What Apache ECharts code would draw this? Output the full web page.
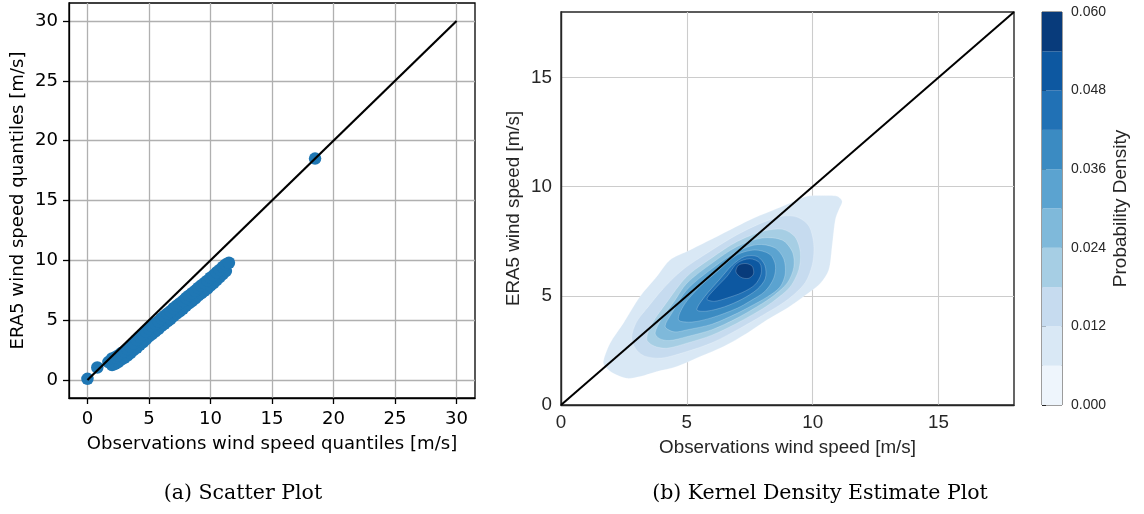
<!DOCTYPE html>
<html>
<head>
<meta charset="utf-8">
<script src="https://cdn.jsdelivr.net/npm/echarts@6/dist/echarts.min.js"></script>
<style>
  html, body { margin: 0; padding: 0; background: #ffffff; }
  #chart { width: 1144px; height: 514px; }
</style>
</head>
<body>
<div id="chart"></div>
<script>
// ---- (a) Q-Q scatter: observed vs ERA5 wind speed quantiles [m/s] ----
const obsQuantiles = [
  0.0, 0.8, 1.7,
  2.0, 2.25, 2.5, 2.75, 3.0, 3.25, 3.5, 3.75, 4.0, 4.25, 4.5, 4.75, 5.0, 5.25, 5.5, 5.75,
  6.0, 6.25, 6.5, 6.75, 7.0, 7.25, 7.5, 7.75, 8.0, 8.25, 8.5, 8.75, 9.0, 9.25, 9.5, 9.75,
  10.0, 10.25, 10.5, 10.75, 11.0, 11.25,
  2.0, 2.25, 2.5, 2.75, 3.0, 3.25, 3.5, 3.75, 4.0, 4.25, 4.5, 4.75, 5.0, 5.25, 5.5, 5.75,
  6.0, 6.25, 6.5, 6.75, 7.0, 7.25, 7.5, 7.75, 8.0, 8.25, 8.5, 8.75, 9.0, 9.25, 9.5, 9.75,
  10.0, 10.25, 10.5, 10.75, 11.0, 11.25,
  11.5, 18.5
];
const era5Quantiles = [
  0.1, 1.05, 1.5,
  1.25, 1.35, 1.5, 1.7, 1.85, 2.05, 2.25, 2.5, 2.7, 2.95, 3.15, 3.4, 3.65, 3.85, 4.05, 4.25,
  4.5, 4.7, 4.9, 5.1, 5.35, 5.55, 5.75, 5.95, 6.2, 6.4, 6.6, 6.8, 7.05, 7.25, 7.45, 7.65,
  7.9, 8.1, 8.35, 8.6, 8.85, 9.1,
  1.8, 1.9, 2.05, 2.25, 2.4, 2.6, 2.8, 3.05, 3.35, 3.6, 3.8, 4.05, 4.3, 4.5, 4.7, 4.9,
  5.15, 5.35, 5.55, 5.75, 6.0, 6.2, 6.4, 6.6, 6.85, 7.05, 7.25, 7.45, 7.7, 7.9, 8.1, 8.3,
  8.55, 8.75, 9.0, 9.2, 9.45, 9.65,
  9.8, 18.5
];
const scatterTicks = [0, 5, 10, 15, 20, 25, 30];
const qqIdentity = [[0, 0], [30, 30]];

// ---- (b) KDE: filled density contours, one closed outline per level ----
const kdeLevel1 = [[1.68,1.99],[1.95,2.83],[2.48,3.75],[3.14,4.97],[3.81,5.89],[4.34,6.65],[5.0,7.03],[5.8,7.49],[6.73,8.03],[7.52,8.49],[8.32,8.87],[9.11,9.25],[9.78,9.56],[10.44,9.59],[10.97,9.56],[11.17,9.33],[11.04,8.94],[10.9,8.49],[10.77,7.26],[10.64,6.19],[10.31,5.58],[9.64,4.97],[8.98,4.43],[8.19,3.9],[7.39,3.29],[6.46,2.68],[5.53,2.22],[4.6,1.76],[3.81,1.53],[3.14,1.3],[2.61,1.22],[2.08,1.45],[1.75,1.76]];
const kdeLevel2 = [[2.81,3.1],[3.0,3.8],[3.5,4.55],[4.0,5.25],[4.5,5.85],[5.0,6.34],[6.0,7.1],[7.0,7.8],[8.0,8.35],[8.8,8.65],[9.4,8.6],[9.85,8.2],[10.04,7.4],[10.0,6.5],[9.7,5.6],[9.0,4.82],[8.0,4.1],[7.0,3.44],[6.0,2.85],[5.0,2.45],[4.0,2.15],[3.3,2.25],[2.95,2.6]];
const kdeLevel3 = [[3.41,3.0],[3.6,3.7],[4.2,4.7],[5.0,5.89],[6.0,6.75],[7.0,7.49],[8.0,7.95],[8.8,8.05],[9.3,7.7],[9.51,7.0],[9.45,6.2],[9.1,5.4],[8.5,4.8],[8.0,4.4],[7.0,3.75],[6.0,3.2],[5.0,2.83],[4.2,2.6],[3.7,2.7]];
const kdeLevel4 = [[3.74,3.3],[4.0,3.95],[4.5,4.75],[5.0,5.58],[6.0,6.5],[7.0,7.26],[8.0,7.65],[8.8,7.55],[9.2,7.0],[9.25,6.3],[9.0,5.6],[8.5,5.05],[8.0,4.65],[7.0,3.98],[6.0,3.45],[5.0,3.13],[4.3,2.95],[3.9,3.05]];
const kdeLevel5 = [[4.14,3.59],[4.4,4.2],[5.0,5.28],[6.0,6.25],[7.0,7.03],[7.8,7.35],[8.5,7.2],[8.85,6.7],[8.91,6.0],[8.7,5.4],[8.2,4.95],[7.5,4.5],[7.0,4.2],[6.0,3.7],[5.0,3.44],[4.5,3.35]];
const kdeLevel6 = [[4.67,3.9],[4.9,4.6],[5.5,5.4],[6.2,6.1],[7.0,6.88],[7.7,7.1],[8.3,6.9],[8.52,6.4],[8.45,5.8],[8.1,5.2],[7.5,4.75],[7.0,4.43],[6.0,4.0],[5.2,3.8]];
const kdeLevel7 = [[5.4,4.36],[5.7,4.95],[6.3,5.75],[6.8,6.4],[7.3,6.8],[7.8,6.8],[8.1,6.4],[8.12,5.8],[7.8,5.3],[7.2,4.85],[6.5,4.5],[5.8,4.3]];
const kdeLevel8 = [[5.8,4.85],[6.1,5.3],[6.6,5.9],[7.0,6.5],[7.5,6.7],[7.9,6.5],[7.95,6.0],[7.7,5.5],[7.2,5.15],[6.6,4.9],[6.1,4.75]];
const kdeLevel9 = [[6.95,6.1],[7.05,6.4],[7.35,6.48],[7.6,6.35],[7.65,6.0],[7.45,5.8],[7.15,5.85]];
const kdeTicks = [0, 5, 10, 15];
const kdeIdentity = [[0, 0], [18, 18]];

// ---- colour scale: density level boundaries and ticks ----
const densityLevels = [0, 0.006, 0.012, 0.018, 0.024, 0.03, 0.036, 0.042, 0.048, 0.054, 0.06];
const densityTicks = [0, 0.012, 0.024, 0.036, 0.048, 0.06];

// Blues palette, one colour per density band
const bluesPalette = ['#eef5fc', '#d9e8f5', '#c6dbef', '#a6cee4', '#7fb9da',
                      '#5ba3d0', '#3b8bc2', '#2171b5', '#0d58a1', '#083b7b'];

const kdeLevels = [kdeLevel1, kdeLevel2, kdeLevel3, kdeLevel4, kdeLevel5,
                   kdeLevel6, kdeLevel7, kdeLevel8, kdeLevel9];

const qqPoints = obsQuantiles.map((x, i) => [x, era5Quantiles[i]]);
const bandData = densityLevels.slice(0, -1).map((lo, i) => [lo, densityLevels[i + 1]]);

const mplFont = 'DejaVu Sans';
const mplSize = 18.1;
const sbFont = 'Liberation Sans';
const sbSize = 18.8;
const sbText = '#262626';

const chart = echarts.init(document.getElementById('chart'), null, { renderer: 'canvas' });

const option = {
  animation: false,
  backgroundColor: '#ffffff',
  grid: [
    { left: 69, top: 3, width: 406, height: 395, show: true, borderColor: '#000', borderWidth: 1.3, backgroundColor: 'transparent' },
    { left: 561, top: 12, width: 453, height: 393, show: true, borderColor: sbText, borderWidth: 1.4, backgroundColor: 'transparent' },
    { left: 1042, top: 12, width: 20, height: 393, show: true, borderColor: '#3a3a3a', borderWidth: 1, backgroundColor: 'transparent' }
  ],
  xAxis: [
    {
      gridIndex: 0, type: 'value', min: -1.5, max: 31.5,
      name: 'Observations wind speed quantiles [m/s]', nameLocation: 'middle', nameGap: 37,
      nameTextStyle: { fontFamily: mplFont, fontSize: mplSize, color: '#000' },
      axisLine: { show: true, onZero: false, lineStyle: { color: '#000', width: 1.3 } },
      axisTick: { show: true, length: 6, customValues: scatterTicks, lineStyle: { color: '#000', width: 1.3 } },
      axisLabel: { customValues: scatterTicks, margin: 12, fontFamily: mplFont, fontSize: mplSize, color: '#000' },
      splitLine: { show: true, lineStyle: { color: '#b0b0b0', width: 1.3 } }
    },
    {
      gridIndex: 1, type: 'value', min: 0, max: 18,
      name: 'Observations wind speed [m/s]', nameLocation: 'middle', nameGap: 33,
      nameTextStyle: { fontFamily: sbFont, fontSize: sbSize, color: sbText },
      axisLine: { show: true, onZero: false, lineStyle: { color: sbText, width: 1.4 } },
      axisTick: { show: false, customValues: kdeTicks },
      axisLabel: { customValues: kdeTicks, margin: 8, fontFamily: sbFont, fontSize: sbSize, color: sbText },
      splitLine: { show: true, lineStyle: { color: '#cccccc', width: 1.1 } }
    },
    {
      gridIndex: 2, type: 'value', min: 0, max: 1, show: false
    }
  ],
  yAxis: [
    {
      gridIndex: 0, type: 'value', min: -1.5, max: 31.5,
      name: 'ERA5 wind speed quantiles [m/s]', nameLocation: 'middle', nameGap: 42, nameRotate: 90,
      nameTextStyle: { fontFamily: mplFont, fontSize: mplSize, color: '#000' },
      axisLine: { show: true, onZero: false, lineStyle: { color: '#000', width: 1.3 } },
      axisTick: { show: true, length: 6, customValues: scatterTicks, lineStyle: { color: '#000', width: 1.3 } },
      axisLabel: { customValues: scatterTicks, margin: 11, fontFamily: mplFont, fontSize: mplSize, color: '#000' },
      splitLine: { show: true, lineStyle: { color: '#b0b0b0', width: 1.3 } }
    },
    {
      gridIndex: 1, type: 'value', min: 0, max: 18,
      name: 'ERA5 wind speed [m/s]', nameLocation: 'middle', nameGap: 38, nameRotate: 90,
      nameTextStyle: { fontFamily: sbFont, fontSize: sbSize, color: sbText },
      axisLine: { show: true, onZero: false, lineStyle: { color: sbText, width: 1.4 } },
      axisTick: { show: false, customValues: kdeTicks },
      axisLabel: { customValues: kdeTicks, margin: 9, fontFamily: sbFont, fontSize: sbSize, color: sbText },
      splitLine: { show: true, lineStyle: { color: '#cccccc', width: 1.1 } }
    },
    {
      gridIndex: 2, type: 'value', min: 0, max: 0.06, position: 'right',
      name: 'Probability Density', nameLocation: 'middle', nameGap: 49, nameRotate: 90,
      nameTextStyle: { fontFamily: sbFont, fontSize: 19, color: sbText },
      axisLine: { show: false },
      axisTick: { show: true, length: 4, customValues: densityTicks, lineStyle: { color: sbText, width: 1 } },
      axisLabel: { customValues: densityTicks, margin: 9, fontFamily: sbFont, fontSize: 14, color: sbText,
                   formatter: v => v.toFixed(3) },
      splitLine: { show: false }
    }
  ],
  graphic: [
    { type: 'text', x: 243, y: 494, silent: true,
      style: { text: '(a) Scatter Plot', font: '20.5px "DejaVu Serif"', fill: '#000', align: 'center', verticalAlign: 'middle' } },
    { type: 'text', x: 820, y: 494, silent: true,
      style: { text: '(b) Kernel Density Estimate Plot', font: '20.5px "DejaVu Serif"', fill: '#000', align: 'center', verticalAlign: 'middle' } }
  ],
  series: [
    {
      type: 'scatter', xAxisIndex: 0, yAxisIndex: 0, data: qqPoints,
      symbol: 'circle', symbolSize: 12.5, z: 2, silent: true,
      itemStyle: { color: '#1f77b4', opacity: 1 },
      emphasis: { disabled: true }
    },
    {
      type: 'line', xAxisIndex: 0, yAxisIndex: 0, data: qqIdentity,
      showSymbol: false, symbol: 'none', z: 3, silent: true,
      lineStyle: { color: '#000', width: 2.2 }
    },
    {
      type: 'custom', xAxisIndex: 1, yAxisIndex: 1, z: 1, silent: true, clip: true,
      data: kdeLevels.map((_, i) => [i]),
      encode: { x: -1, y: -1 },
      renderItem: function (params, api) {
        const lvl = api.value(0);
        const pts = kdeLevels[lvl].map(p => api.coord(p));
        return {
          type: 'polygon',
          shape: { points: pts, smooth: 0.3 },
          style: { fill: bluesPalette[lvl + 1], stroke: 'rgba(255,255,255,0.35)', lineWidth: 0.6 }
        };
      }
    },
    {
      type: 'line', xAxisIndex: 1, yAxisIndex: 1, data: kdeIdentity,
      showSymbol: false, symbol: 'none', z: 3, silent: true,
      lineStyle: { color: '#000', width: 2 }
    },
    {
      type: 'custom', xAxisIndex: 2, yAxisIndex: 2, z: 1, silent: true,
      data: bandData,
      encode: { x: -1, y: [0, 1] },
      renderItem: function (params, api) {
        const p0 = api.coord([0, api.value(0)]);
        const p1 = api.coord([1, api.value(1)]);
        return {
          type: 'rect',
          shape: { x: p0[0], y: p1[1], width: p1[0] - p0[0], height: p0[1] - p1[1] },
          style: { fill: bluesPalette[params.dataIndex] }
        };
      }
    }
  ]
};

chart.setOption(option);
</script>
</body>
</html>
